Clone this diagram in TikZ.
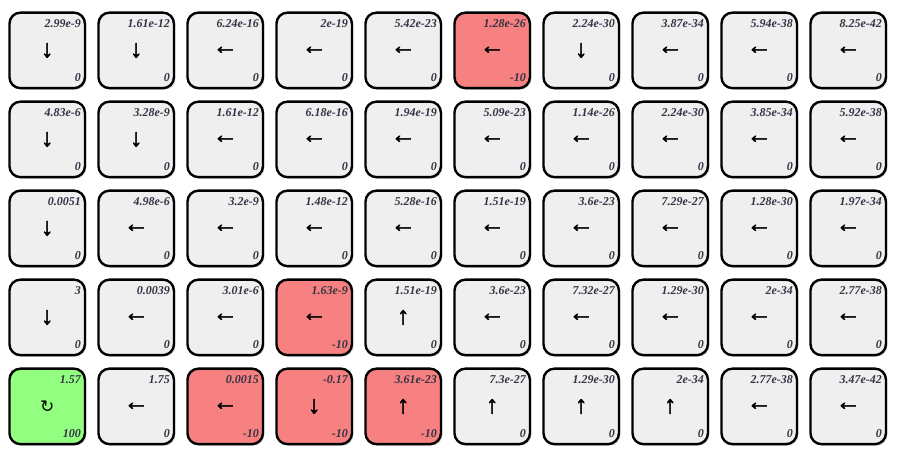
\documentclass[tikz,border=0pt]{standalone}
\usepackage{fontspec}
\setmainfont{Liberation Serif}
\newfontfamily\arrowfont[FakeBold=2]{Liberation Serif}
\newfontfamily\spinfont{DejaVu Sans}
\usetikzlibrary{shadows, math}
\definecolor{mygrey}{RGB}{239,239,239}
\definecolor{myred}{RGB}{247,128,128}
\definecolor{mygreen}{RGB}{146,255,128}
\definecolor{mytext}{RGB}{51,51,68}
\newcommand{\spin}{{\spinfont\mdseries\fontsize{17}{18}\selectfont ↻}}

\tikzset{
cellbox/.style={draw=black, line width=2.4pt, rounded corners=11pt, minimum size=75.5pt, inner sep=0pt,
  drop shadow={shadow xshift=1.5pt, shadow yshift=-1.5pt, opacity=0.35}},
val/.style={anchor=base east, inner sep=0pt, text=mytext, font=\bfseries\itshape\fontsize{12}{14}\selectfont},
act/.style={inner sep=0pt, font=\arrowfont\fontsize{25}{27}\selectfont},
}

\begin{document}
\begin{tikzpicture}[x=1pt, y=-1pt]
\tikzmath{
\p=89; \xo=47.2; \yo=50.4;
}
\useasboundingbox (0,0) rectangle (910,460);

\foreach \j/\i/\v/\a/\r/\col in {
0/0/2.99e-9/↓/0/mygrey, 0/1/1.61e-12/↓/0/mygrey, 0/2/6.24e-16/←/0/mygrey, 0/3/2e-19/←/0/mygrey, 0/4/5.42e-23/←/0/mygrey,
0/5/1.28e-26/←/-10/myred, 0/6/2.24e-30/↓/0/mygrey, 0/7/3.87e-34/←/0/mygrey, 0/8/5.94e-38/←/0/mygrey, 0/9/8.25e-42/←/0/mygrey,
1/0/4.83e-6/↓/0/mygrey, 1/1/3.28e-9/↓/0/mygrey, 1/2/1.61e-12/←/0/mygrey, 1/3/6.18e-16/←/0/mygrey, 1/4/1.94e-19/←/0/mygrey,
1/5/5.09e-23/←/0/mygrey, 1/6/1.14e-26/←/0/mygrey, 1/7/2.24e-30/←/0/mygrey, 1/8/3.85e-34/←/0/mygrey, 1/9/5.92e-38/←/0/mygrey,
2/0/0.0051/↓/0/mygrey, 2/1/4.98e-6/←/0/mygrey, 2/2/3.2e-9/←/0/mygrey, 2/3/1.48e-12/←/0/mygrey, 2/4/5.28e-16/←/0/mygrey,
2/5/1.51e-19/←/0/mygrey, 2/6/3.6e-23/←/0/mygrey, 2/7/7.29e-27/←/0/mygrey, 2/8/1.28e-30/←/0/mygrey, 2/9/1.97e-34/←/0/mygrey,
3/0/3/↓/0/mygrey, 3/1/0.0039/←/0/mygrey, 3/2/3.01e-6/←/0/mygrey, 3/3/1.63e-9/←/-10/myred, 3/4/1.51e-19/↑/0/mygrey,
3/5/3.6e-23/←/0/mygrey, 3/6/7.32e-27/←/0/mygrey, 3/7/1.29e-30/←/0/mygrey, 3/8/2e-34/←/0/mygrey, 3/9/2.77e-38/←/0/mygrey,
4/0/1.57/\spin/100/mygreen, 4/1/1.75/←/0/mygrey, 4/2/0.0015/←/-10/myred, 4/3/-0.17/↓/-10/myred, 4/4/3.61e-23/↑/-10/myred,
4/5/7.3e-27/↑/0/mygrey, 4/6/1.29e-30/↑/0/mygrey, 4/7/2e-34/↑/0/mygrey, 4/8/2.77e-38/←/0/mygrey, 4/9/3.47e-42/←/0/mygrey}{
\node[cellbox, fill=\col] (c\j\i) at (\xo+\p*\i, \yo+\p*\j) {};
\node[val] (v\j\i) at ([shift={(-5pt,-16.3pt)}]c\j\i.north east) {\v};
\node[val] (r\j\i) at ([shift={(-5pt,8pt)}]c\j\i.south east) {\r};
\node[act] (a\j\i) at (c\j\i) {\a};
}
\end{tikzpicture}
\end{document}
